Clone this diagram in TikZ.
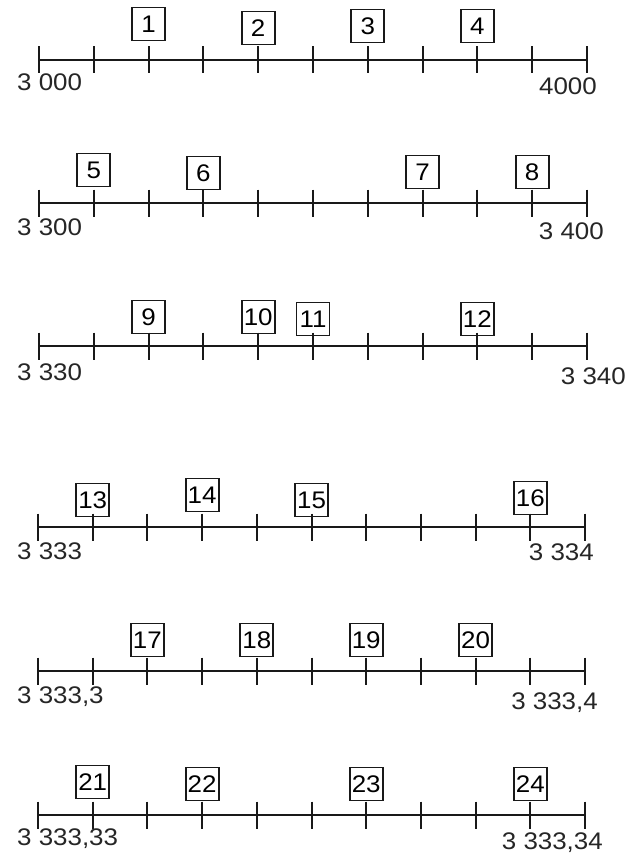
\documentclass[tikz,border=0pt]{standalone}
\usepackage{fontspec}
\setmainfont{Liberation Sans}[FakeStretch=1.08]
\usetikzlibrary{calc}
\newcommand\numline[4]{%
  \coordinate (#1s) at (#2,#4);
  \coordinate (#1e) at (#3,#4);
  \draw[axisline] (#1s) -- (#1e);
  \foreach \i in {0,...,10} {
    \coordinate (#1t\i) at ($(#1s)!\i/10!(#1e)$);
    \draw[axisline] ($(#1t\i)+(0,-13.5)$) -- ($(#1t\i)+(0,13.5)$);
  }}
\begin{document}
\begin{tikzpicture}[x=1pt,y=-1pt,
  axisline/.style={line width=2pt, black!90},
  numbox/.style={draw=black!90, line width=1.9pt, minimum width=33pt, minimum height=33pt, inner sep=0pt, font=\fontsize{24}{24}\selectfont},
  lbl/.style={inner sep=0pt, font=\fontsize{24}{24}\selectfont, text=black!85}]
\useasboundingbox (0,0) rectangle (628,853);

% line 1
\numline{La}{39}{587}{60}
\node[numbox] (b1) at (Lat2 |- 0,24) {1};
\node[numbox] (b2) at (Lat4 |- 0,28) {2};
\node[numbox] (b3) at (Lat6 |- 0,26) {3};
\node[numbox] (b4) at (Lat8 |- 0,26) {4};
\node[lbl, anchor=base west] (la1) at (17,91) {3 000};
\node[lbl, anchor=base east] (la2) at (597,95) {4000};

% line 2
\numline{Lb}{39}{587}{203}
\node[numbox] (b5) at (Lbt1 |- 0,170) {5};
\node[numbox] (b6) at (Lbt3 |- 0,173) {6};
\node[numbox] (b7) at (Lbt7 |- 0,172) {7};
\node[numbox] (b8) at (Lbt9 |- 0,172) {8};
\node[lbl, anchor=base west] (lb1) at (17,235) {3 300};
\node[lbl, anchor=base east] (lb2) at (604,239) {3 400};

% line 3
\numline{Lc}{39}{587}{346}
\node[numbox] (b9) at (Lct2 |- 0,317) {9};
\node[numbox] (b10) at (Lct4 |- 0,317) {10};
\node[numbox] (b11) at (Lct5 |- 0,319) {11};
\node[numbox] (b12) at (Lct8 |- 0,319) {12};
\node[lbl, anchor=base west] (lc1) at (17,380) {3 330};
\node[lbl, anchor=base east] (lc2) at (626,384) {3 340};

% line 4
\numline{Ld}{38}{585}{527}
\node[numbox] (b13) at (Ldt1 |- 0,500) {13};
\node[numbox] (b14) at (Ldt3 |- 0,495) {14};
\node[numbox] (b15) at (Ldt5 |- 0,500) {15};
\node[numbox] (b16) at (Ldt9 |- 0,498) {16};
\node[lbl, anchor=base west] (ld1) at (17,559) {3 333};
\node[lbl, anchor=base east] (ld2) at (594,560) {3 334};

% line 5
\numline{Le}{38}{585}{671}
\node[numbox] (b17) at (Let2 |- 0,640) {17};
\node[numbox] (b18) at (Let4 |- 0,640) {18};
\node[numbox] (b19) at (Let6 |- 0,640) {19};
\node[numbox] (b20) at (Let8 |- 0,640) {20};
\node[lbl, anchor=base west] (le1) at (17,703) {3 333,3};
\node[lbl, anchor=base east] (le2) at (598,709) {3 333,4};

% line 6
\numline{Lf}{38}{585}{815}
\node[numbox] (b21) at (Lft1 |- 0,782) {21};
\node[numbox] (b22) at (Lft3 |- 0,784) {22};
\node[numbox] (b23) at (Lft6 |- 0,784) {23};
\node[numbox] (b24) at (Lft9 |- 0,784) {24};
\node[lbl, anchor=base west] (lf1) at (17,845) {3 333,33};
\node[lbl, anchor=base east] (lf2) at (603,849) {3 333,34};
\end{tikzpicture}
\end{document}
